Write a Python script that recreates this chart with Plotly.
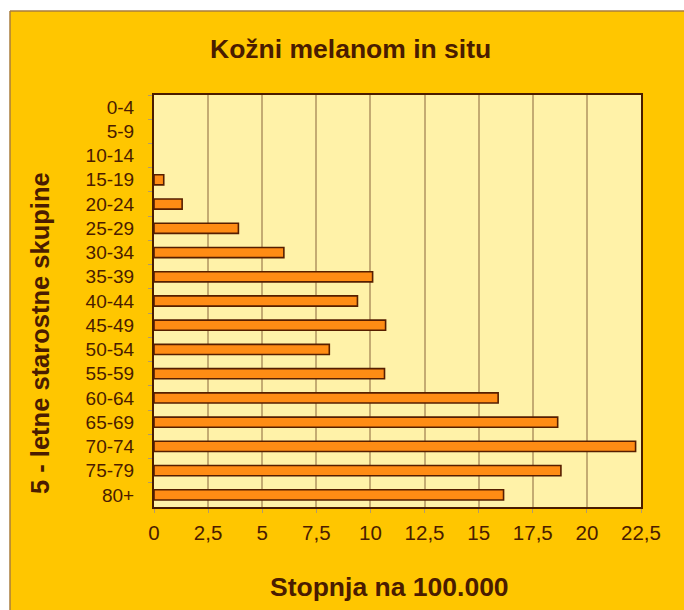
import plotly.graph_objects as go

age_groups = ["0-4", "5-9", "10-14", "15-19", "20-24", "25-29", "30-34", "35-39",
              "40-44", "45-49", "50-54", "55-59", "60-64", "65-69", "70-74", "75-79", "80+"]
rates = [0, 0, 0, 0.45, 1.3, 3.9, 6.0, 10.1, 9.4, 10.7, 8.1, 10.65, 15.9, 18.65, 22.25, 18.8, 16.15]
x_ticks = [0, 2.5, 5, 7.5, 10, 12.5, 15, 17.5, 20, 22.5]

title_text = "Kožni melanom in situ"
x_title = "Stopnja na 100.000"
y_title = "5 - letne starostne skupine"

W, H = 684, 610
L, R, T, B = 154, 641, 95, 507
pw, ph = R - L, B - T

def px(x):
    return (x - L) / pw

def py(y):
    return (B - y) / ph

text_col = "#4a1c00"
font_family = "Liberation Sans, Arial, sans-serif"

# no outline on empty (zero) bars
outline_widths = [1.6 if v > 0 else 0 for v in rates]

fig = go.Figure()
fig.add_trace(go.Bar(
    x=rates, y=age_groups, orientation="h",
    marker=dict(color="#ff8c14", line=dict(color="#561e00", width=outline_widths)),
))

fig.update_layout(
    width=W, height=H,
    margin=dict(l=L, r=W - R, t=T, b=H - B, pad=0),
    paper_bgcolor="#ffc600",
    plot_bgcolor="#fff2a8",
    separators=",.",
    bargap=0.58,
    showlegend=False,
    font=dict(family=font_family, color=text_col),
    xaxis=dict(
        range=[0, 22.5], tickvals=x_ticks, tickformat=".1~f",
        showgrid=True, gridcolor="#c4ab72", gridwidth=1.6,
        showline=True, mirror=True, linecolor="#4a1c00", linewidth=2,
        ticks="outside", ticklen=4, tickcolor="#b09a70", tickwidth=1,
        tickfont=dict(size=20.5, color=text_col), ticklabelstandoff=2,
        zeroline=False, fixedrange=True,
    ),
    yaxis=dict(
        autorange="reversed", type="category",
        showgrid=False,
        showline=True, mirror=True, linecolor="#4a1c00", linewidth=2,
        ticks="outside", tickson="boundaries", ticklen=4, tickcolor="#b09a70", tickwidth=1,
        tickfont=dict(size=19, color=text_col), ticklabelstandoff=14,
        fixedrange=True,
    ),
    shapes=[
        dict(type="rect", xref="paper", yref="paper", x0=-0.5, x1=1.5,
             y0=py(11), y1=1.5, fillcolor="white", line=dict(width=0), layer="above"),
        dict(type="rect", xref="paper", yref="paper", x0=-0.5, x1=px(10),
             y0=-0.5, y1=1.5, fillcolor="white", line=dict(width=0), layer="above"),
        dict(type="line", xref="paper", yref="paper", x0=px(10), x1=1.5,
             y0=py(11), y1=py(11), line=dict(color="#a87c3c", width=1.5), layer="above"),
        dict(type="line", xref="paper", yref="paper", x0=px(10), x1=px(10),
             y0=py(11), y1=-0.5, line=dict(color="#a87c3c", width=1.5), layer="above"),
    ],
    annotations=[
        dict(text="<b>%s</b>" % title_text, xref="paper", yref="paper",
             x=px(350), y=py(49), xanchor="center", yanchor="middle", showarrow=False,
             font=dict(size=26.5, color=text_col)),
        dict(text="<b>%s</b>" % x_title, xref="paper", yref="paper",
             x=px(389), y=py(587), xanchor="center", yanchor="middle", showarrow=False,
             font=dict(size=26.5, color=text_col)),
        dict(text="<b>%s</b>" % y_title, xref="paper", yref="paper",
             x=px(40), y=py(333), xanchor="center", yanchor="middle", showarrow=False,
             textangle=-90, font=dict(size=25.5, color=text_col)),
    ],
)

fig.write_html(
    "out.html",
    config={"displayModeBar": False},
    post_script="document.body.style.margin='0';document.body.style.overflow='hidden';",
)
